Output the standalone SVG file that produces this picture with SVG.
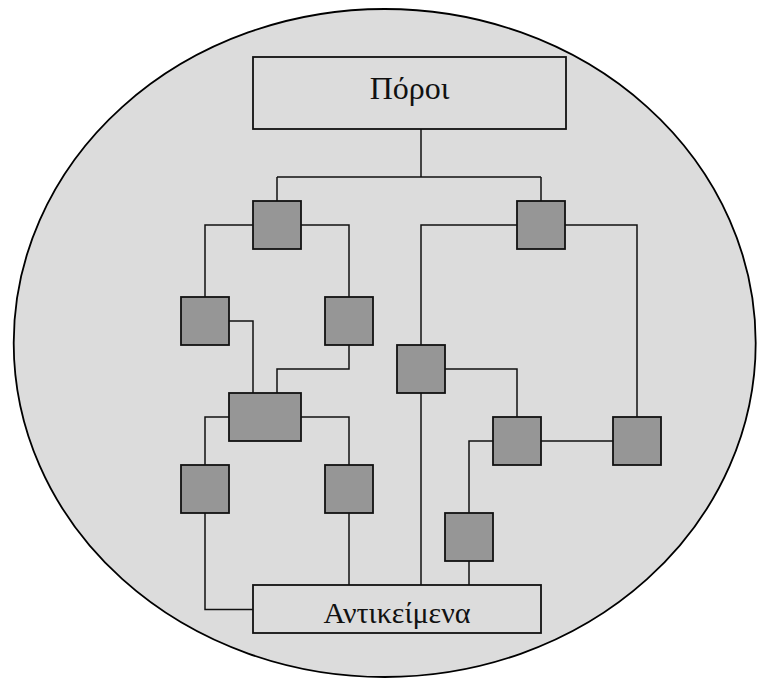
<svg xmlns="http://www.w3.org/2000/svg" width="757" height="678" viewBox="0 0 757 678">
  <style>
    .bg { fill: #dcdcdc; stroke: #000; stroke-width: 1.8; }
    .label { fill: #dcdcdc; stroke: #111; stroke-width: 1.8; }
    .unit { fill: #969696; stroke: #111; stroke-width: 1.8; }
    .wire { fill: none; stroke: #111; stroke-width: 1.5; }
    .txt { font-family: "Liberation Serif", "DejaVu Serif", serif; fill: #111; text-anchor: middle; }
  </style>
  <rect width="757" height="678" fill="#ffffff"/>
  <ellipse class="bg" cx="384.7" cy="343" rx="371" ry="334"/>

  <g id="connectors">
    <!-- trunk from the top label -->
    <path class="wire" d="M421 129 V177 M277 177 H541 M277 177 V201 M541 177 V201"/>
    <!-- left branch -->
    <path class="wire" d="M253 225 H205 V297 M301 225 H349 V297"/>
    <path class="wire" d="M229 321 H253 V393"/>
    <path class="wire" d="M349 345 V369 H277 V393"/>
    <path class="wire" d="M229 417 H205 V465 M301 417 H349 V465"/>
    <path class="wire" d="M205 513 V609.5 H253"/>
    <path class="wire" d="M349 513 V585"/>
    <!-- right branch -->
    <path class="wire" d="M517 225 H421 V345 M421 393 V585"/>
    <path class="wire" d="M565 225 H637 V417"/>
    <path class="wire" d="M445 369 H517 V417"/>
    <path class="wire" d="M541 441 H613"/>
    <path class="wire" d="M493 441 H469 V513 M469 561 V585"/>
  </g>

  <g id="poroi">
    <rect class="label" x="253" y="57" width="313" height="72"/>
    <text class="txt" x="409.5" y="99" font-size="32">Πόροι</text>
  </g>
  <g id="antikeimena">
    <rect class="label" x="253" y="585" width="288" height="48"/>
    <text class="txt" x="397" y="622.5" font-size="30">Αντικείμενα</text>
  </g>

  <g id="n1"><rect class="unit" x="253" y="201" width="48" height="48"/></g>
  <g id="n2"><rect class="unit" x="517" y="201" width="48" height="48"/></g>
  <g id="n3"><rect class="unit" x="181" y="297" width="48" height="48"/></g>
  <g id="n4"><rect class="unit" x="325" y="297" width="48" height="48"/></g>
  <g id="n5"><rect class="unit" x="397" y="345" width="48" height="48"/></g>
  <g id="n6"><rect class="unit" x="229" y="393" width="72" height="48"/></g>
  <g id="n7"><rect class="unit" x="493" y="417" width="48" height="48"/></g>
  <g id="n8"><rect class="unit" x="613" y="417" width="48" height="48"/></g>
  <g id="n9"><rect class="unit" x="181" y="465" width="48" height="48"/></g>
  <g id="n10"><rect class="unit" x="325" y="465" width="48" height="48"/></g>
  <g id="n11"><rect class="unit" x="445" y="513" width="48" height="48"/></g>
</svg>
